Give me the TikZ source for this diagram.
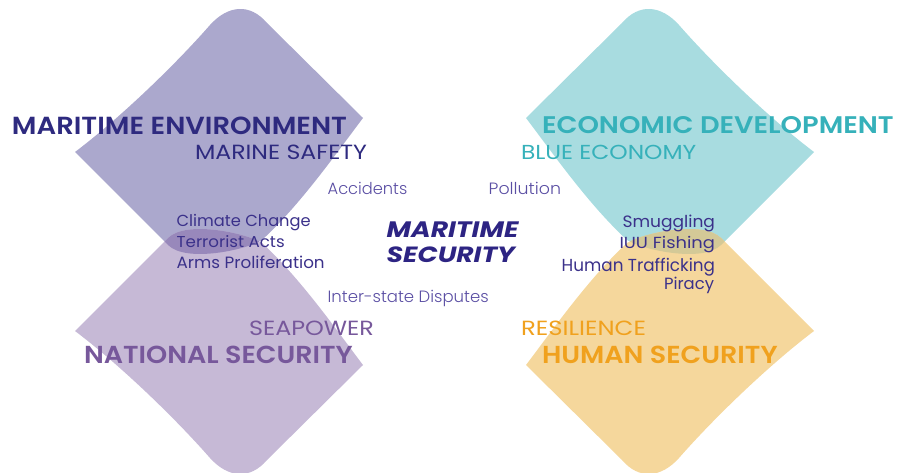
\documentclass[tikz,border=0pt]{standalone}
\usepackage{fontspec}
\usepackage{graphicx}
\setmainfont{Poppins}
\newfontfamily\pLight{Poppins Light}
\newfontfamily\pSemi{Poppins SemiBold}
\definecolor{cTL}{HTML}{ABA8CD}
\definecolor{cBL}{HTML}{C6B9D6}
\definecolor{cTR}{HTML}{A8DCE0}
\definecolor{cBR}{HTML}{F5D79C}
\definecolor{cLensP}{HTML}{9888BB}
\definecolor{cLensO}{HTML}{D4C997}
\definecolor{cInd}{HTML}{2E2A7F}
\definecolor{cMS}{HTML}{2D2483}
\definecolor{cLight}{HTML}{5A4EA3}
\definecolor{cList}{HTML}{3B318A}
\definecolor{cTeal}{HTML}{36B1BA}
\definecolor{cNat}{HTML}{77589B}
\definecolor{cOrange}{HTML}{F0A11E}
\newcommand\shapepath{(75,152) .. controls (120,118) and (175,65) .. (210,25) .. controls (228,5) and (250,3) .. (267,23) -- (363,118) .. controls (335,155) and (300,205) .. (262,240) .. controls (246,250) and (186,263) .. (168,245) -- cycle}
\newcommand\fitbox[3]{\resizebox{#1pt}{#2pt}{#3}}
\tikzset{
  txt/.style={inner sep=0pt, outer sep=0pt, font=\fontsize{20}{24}\selectfont},
  lw/.style={txt, anchor=base west},
  le/.style={txt, anchor=base east}
}
\begin{document}
\begin{tikzpicture}[x=1pt,y=-1pt]
\useasboundingbox (0,0) rectangle (897,473);
% shapes
\fill[cTL] \shapepath;
\begin{scope}[shift={(0,483)},yscale=-1]
  \fill[cBL] \shapepath;
\end{scope}
\begin{scope}[shift={(889,0)},xscale=-1]
  \fill[cTR] \shapepath;
\end{scope}
\begin{scope}[shift={(889,483)},xscale=-1,yscale=-1]
  \fill[cBR] \shapepath;
\end{scope}
% overlaps
\begin{scope}
  \clip \shapepath;
  \begin{scope}[shift={(0,483)},yscale=-1]
    \fill[cLensP] \shapepath;
  \end{scope}
\end{scope}
\begin{scope}[shift={(889,0)},xscale=-1]
  \clip \shapepath;
  \begin{scope}[shift={(0,483)},yscale=-1]
    \fill[cLensO] \shapepath;
  \end{scope}
\end{scope}
% texts
\node[lw, text=cInd] (menv) at (12,134.2) {\fitbox{335}{17.5}{\pSemi MARITIME ENVIRONMENT}};
\node[lw, text=cInd] (msafe) at (195,159.7) {\fitbox{172}{14.5}{MARINE SAFETY}};
\node[lw, text=cLight] (acc) at (327.7,195) {\fitbox{79.6}{12.3}{\pLight Accidents}};
\node[lw, text=cLight] (poll) at (488.7,195) {\fitbox{72.3}{12.3}{\pLight Pollution}};
\node[lw, text=cList] (clim) at (176.7,226.9) {\fitbox{134}{12.2}{Climate Change}};
\node[lw, text=cList] (terr) at (176.7,247.9) {\fitbox{108}{12}{Terrorist Acts}};
\node[lw, text=cList] (arms) at (176.7,269) {\fitbox{148}{12.5}{Arms Proliferation}};
\node[lw, text=cLight] (inter) at (327.7,302) {\fitbox{161}{12.3}{\pLight Inter-state Disputes}};
\node[lw, text=cNat] (seap) at (249,335.3) {\fitbox{125}{14.5}{SEAPOWER}};
\node[lw, text=cNat] (natsec) at (84,363.7) {\fitbox{268.7}{17.4}{\pSemi NATIONAL SECURITY}};
\node[lw, text=cTeal] (econ) at (542,133.3) {\fitbox{351.7}{17}{\pSemi ECONOMIC DEVELOPMENT}};
\node[lw, text=cTeal] (blue) at (521,159.3) {\fitbox{175.3}{14.3}{BLUE ECONOMY}};
\node[le, text=cList] (smug) at (715,227.5) {\fitbox{92.5}{12.5}{Smuggling}};
\node[le, text=cList] (iuu) at (715,248.6) {\fitbox{95.5}{12.2}{IUU Fishing}};
\node[le, text=cList] (traf) at (715,271.3) {\fitbox{153.3}{13.3}{Human Trafficking}};
\node[le, text=cList] (pir) at (714,289.7) {\fitbox{50}{12.4}{Piracy}};
\node[lw, text=cOrange] (resil) at (521,335.3) {\fitbox{125}{14.5}{RESILIENCE}};
\node[lw, text=cOrange] (human) at (542,363.7) {\fitbox{235.7}{17.4}{\pSemi HUMAN SECURITY}};
\node[lw, text=cMS] (ms1) at (386.7,237.3) {\fitbox{131.7}{15.7}{\bfseries\itshape MARITIME}};
\node[lw, text=cMS] (ms2) at (386.7,262.3) {\fitbox{128.3}{15.7}{\bfseries\itshape SECURITY}};
\end{tikzpicture}
\end{document}
